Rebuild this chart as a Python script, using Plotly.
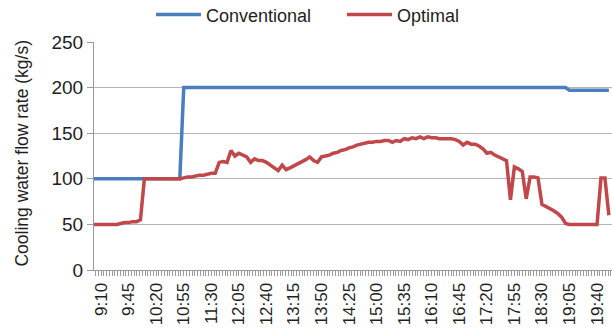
import plotly.graph_objects as go

# Sampling: every 5 minutes from 9:00 to 19:55
START_MIN = 9 * 60
STEP_MIN = 5
FIRST_LABEL_MIN = 9 * 60 + 10
LABEL_STEP_MIN = 35

conventional = [
    100, 100,                                          # 9:00 - 9:05
    100, 100, 100, 100, 100, 100, 100, 100, 100, 100,  # 9:10 - 9:55
    100, 100, 100, 100, 100, 100, 100, 100, 100,       # 10:00 - 10:40
    100, 100,                                          # 10:45 - 10:50
    200, 200, 200, 200, 200, 200, 200, 200, 200, 200,  # 10:55 - 11:40
    200, 200, 200, 200, 200, 200, 200, 200, 200, 200,  # 11:45 - 12:30
    200, 200, 200, 200, 200, 200, 200, 200, 200, 200,  # 12:35 - 13:20
    200, 200, 200, 200, 200, 200, 200, 200, 200, 200,  # 13:25 - 14:10
    200, 200, 200, 200, 200, 200, 200, 200, 200, 200,  # 14:15 - 15:00
    200, 200, 200, 200, 200, 200, 200, 200, 200, 200,  # 15:05 - 15:50
    200, 200, 200, 200, 200, 200, 200, 200, 200, 200,  # 15:55 - 16:40
    200, 200, 200, 200, 200, 200, 200, 200, 200, 200,  # 16:45 - 17:30
    200, 200, 200, 200, 200, 200, 200, 200, 200, 200,  # 17:35 - 18:20
    200, 200, 200, 200, 200, 200, 200, 200,            # 18:25 - 19:00
    197, 197, 197, 197, 197, 197, 197, 197, 197, 197,  # 19:05 - 19:50
    197,                                               # 19:55
]

optimal = [
    50, 50,                                            # 9:00 - 9:05
    50, 50, 50, 50, 50, 51, 52, 52, 53, 53,            # 9:10 - 9:55
    55, 100, 100, 100, 100, 100, 100, 100, 100,        # 10:00 - 10:40
    100, 100,                                          # 10:45 - 10:50
    101, 102, 102, 103, 104, 104, 105, 106, 106, 118,  # 10:55 - 11:40
    119, 118, 131, 125, 128, 126, 124, 118, 122, 120,  # 11:45 - 12:30
    120, 118, 115, 112, 109, 115, 110, 112, 114, 116,  # 12:35 - 13:20
    119, 121, 124, 120, 118, 124, 125, 126, 128, 129,  # 13:25 - 14:10
    131, 132, 134, 135, 137, 138, 139, 140, 140, 141,  # 14:15 - 15:00
    141, 142, 142, 140, 142, 141, 144, 143, 145, 144,  # 15:05 - 15:50
    146, 144, 146, 145, 145, 144, 144, 144, 144, 143,  # 15:55 - 16:40
    141, 137, 140, 138, 138, 136, 133, 128, 129, 126,  # 16:45 - 17:30
    124, 122, 120, 77, 113, 111, 108, 78, 102, 102,    # 17:35 - 18:20
    101, 72, 70, 68, 65, 62, 58, 51,                   # 18:25 - 19:00
    50, 50, 50, 50, 50, 50, 50, 50, 101, 101,          # 19:05 - 19:50
    60,                                                # 19:55
]

minutes = [START_MIN + STEP_MIN * i for i in range(len(optimal))]


def hhmm(m):
    return f"{m // 60}:{m % 60:02d}"


tick_minutes = list(range(FIRST_LABEL_MIN, minutes[-1] + 1, LABEL_STEP_MIN))
tick_labels = [hhmm(m) for m in tick_minutes]

BLUE = "#4a7ebf"
RED = "#c0474a"
GRID = "#b4b4b4"
AXIS = "#9a9a9a"
TEXT = "#1e1e1e"
FONT = "Liberation Sans, Arial, sans-serif"

fig = go.Figure()
fig.add_trace(go.Scatter(x=minutes, y=conventional, mode="lines", name="Conventional",
                         line=dict(color=BLUE, width=3.5), legend="legend"))
fig.add_trace(go.Scatter(x=minutes, y=optimal, mode="lines", name="Optimal",
                         line=dict(color=RED, width=3.5), legend="legend2"))

legend_style = dict(orientation="h", xref="container", yref="container",
                    xanchor="left", y=0.955, yanchor="middle",
                    font=dict(size=18), itemwidth=45,
                    bgcolor="rgba(0,0,0,0)")

fig.update_layout(
    width=612, height=331,
    margin=dict(l=94, r=0, t=42, b=61, autoexpand=False),
    paper_bgcolor="white", plot_bgcolor="white",
    font=dict(family=FONT, size=18, color=TEXT),
    showlegend=True,
    legend=dict(x=0.2467, **legend_style),
    legend2=dict(x=0.5588, **legend_style),
    annotations=[dict(text="Cooling water flow rate (kg/s)", textangle=-90,
                      xref="paper", yref="paper", x=-0.139, y=0.515,
                      xanchor="center", yanchor="middle", showarrow=False,
                      font=dict(size=17.5, family=FONT, color=TEXT))],
)

fig.update_xaxes(
    range=[541, 1199],
    tickmode="array", tickvals=tick_minutes, ticktext=tick_labels,
    tickangle=-90, ticks="outside", ticklen=5, tickcolor=AXIS,
    minor=dict(dtick=3.5, tick0=FIRST_LABEL_MIN, ticks="outside", ticklen=5,
               tickcolor=AXIS, showgrid=False),
    showline=True, linecolor=AXIS, linewidth=1,
    showgrid=False, zeroline=False,
    tickfont=dict(size=17),
)
fig.update_yaxes(
    range=[0, 250], tickmode="linear", tick0=0, dtick=50,
    ticks="outside", ticklen=6, tickcolor=AXIS,
    showline=True, linecolor=AXIS, linewidth=1,
    showgrid=True, gridcolor=GRID, gridwidth=1, zeroline=False,
    tickfont=dict(size=19),
)

fig.write_html("out.html")
